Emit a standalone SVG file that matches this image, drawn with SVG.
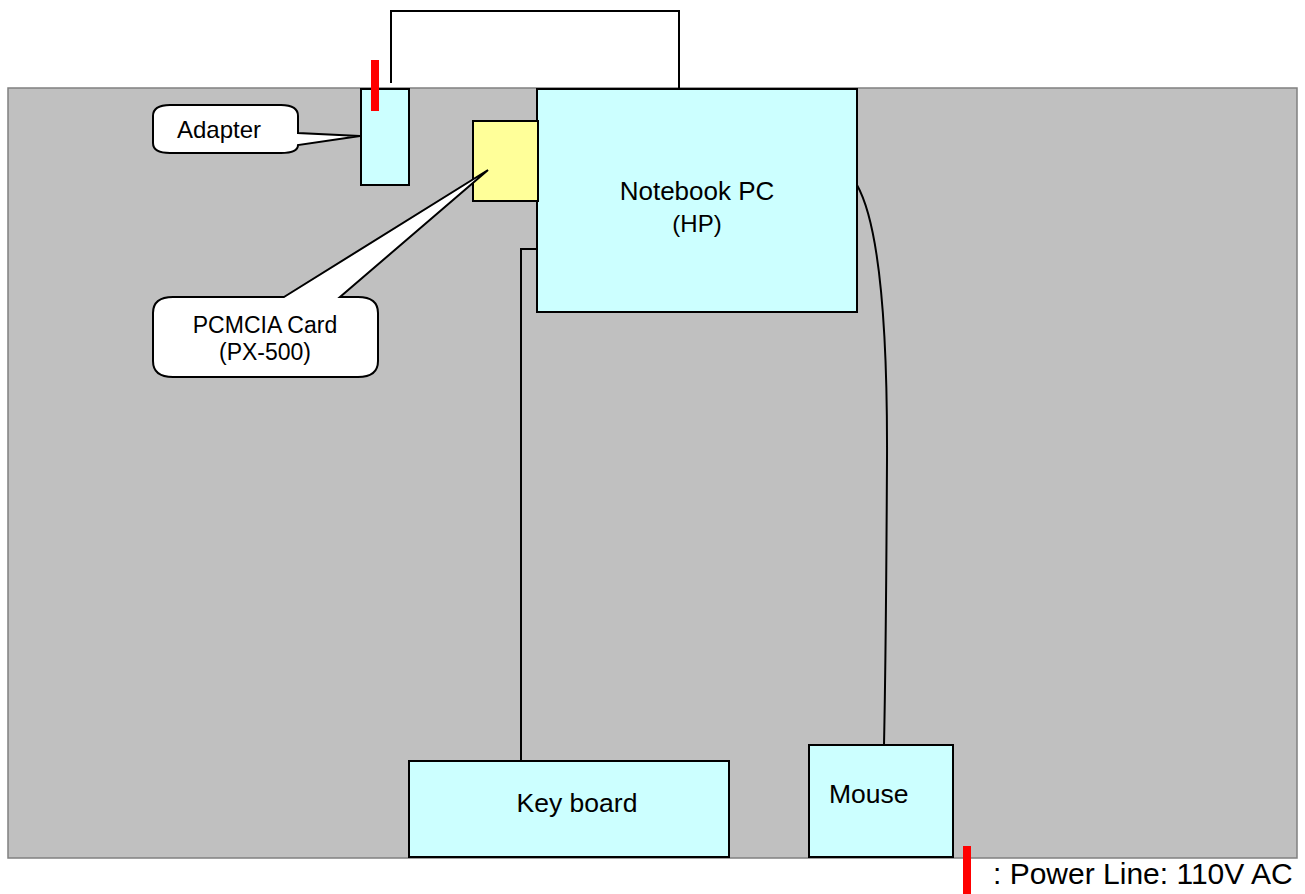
<svg xmlns="http://www.w3.org/2000/svg" width="1305" height="894" viewBox="0 0 1305 894">
<style>
.box{fill:#ccffff;stroke:#000;stroke-width:2}
.card{fill:#ffff99;stroke:#000;stroke-width:2}
.call{fill:#fff;stroke:#000;stroke-width:2}
.wire{fill:none;stroke:#000;stroke-width:2}
.pwr{fill:#ff0000}
text{font-family:"Liberation Sans",Arial,sans-serif;fill:#000}
</style>
<rect id="background" x="8" y="88" width="1289" height="770" fill="#c0c0c0" stroke="#808080" stroke-width="1.5"/>
<g id="connectors">
<polyline class="wire" points="391,83 391,11 679,11 679,89"/>
<polyline class="wire" points="537,249 521,249 521,761"/>
<path class="wire" d="M857,185 Q888,240 887,460 Q886,650 884,745"/>
</g>
<g id="notebook">
<rect class="box" x="537" y="89" width="320" height="223"/>
<text x="697" y="200" font-size="26" text-anchor="middle">Notebook PC</text>
<text x="697" y="232" font-size="24" text-anchor="middle">(HP)</text>
</g>
<g id="adapter">
<rect class="box" x="361" y="89" width="48" height="96"/>
<rect class="pwr" x="371" y="60" width="8" height="51"/>
</g>
<g id="pcmcia">
<rect class="card" x="473" y="121" width="65" height="80"/>
</g>
<g id="adapter-callout">
<path class="call" d="M170,105 H281 Q298,105 298,116 V133 L360,136 L298,145 Q298,153 281,153 H170 Q153,153 153,143 V116 Q153,105 170,105 Z"/>
<text x="177" y="138" font-size="24">Adapter</text>
</g>
<g id="pcmcia-callout">
<path class="call" d="M284,297 L488,170 L340,297 H358 Q378,297 378,313 V361 Q378,377 358,377 H173 Q153,377 153,361 V313 Q153,297 173,297 Z"/>
<text x="265" y="333" font-size="23" text-anchor="middle">PCMCIA Card</text>
<text x="265" y="360" font-size="23" text-anchor="middle">(PX-500)</text>
</g>
<g id="keyboard">
<rect class="box" x="409" y="761" width="320" height="96"/>
<text x="577" y="812" font-size="26.5" text-anchor="middle">Key board</text>
</g>
<g id="mouse">
<rect class="box" x="809" y="745" width="144" height="112"/>
<text x="829" y="803" font-size="26.5">Mouse</text>
</g>
<g id="legend">
<rect class="pwr" x="963" y="846" width="8" height="48"/>
<text x="993" y="884" font-size="30">: Power Line: 110V AC</text>
</g>
</svg>
